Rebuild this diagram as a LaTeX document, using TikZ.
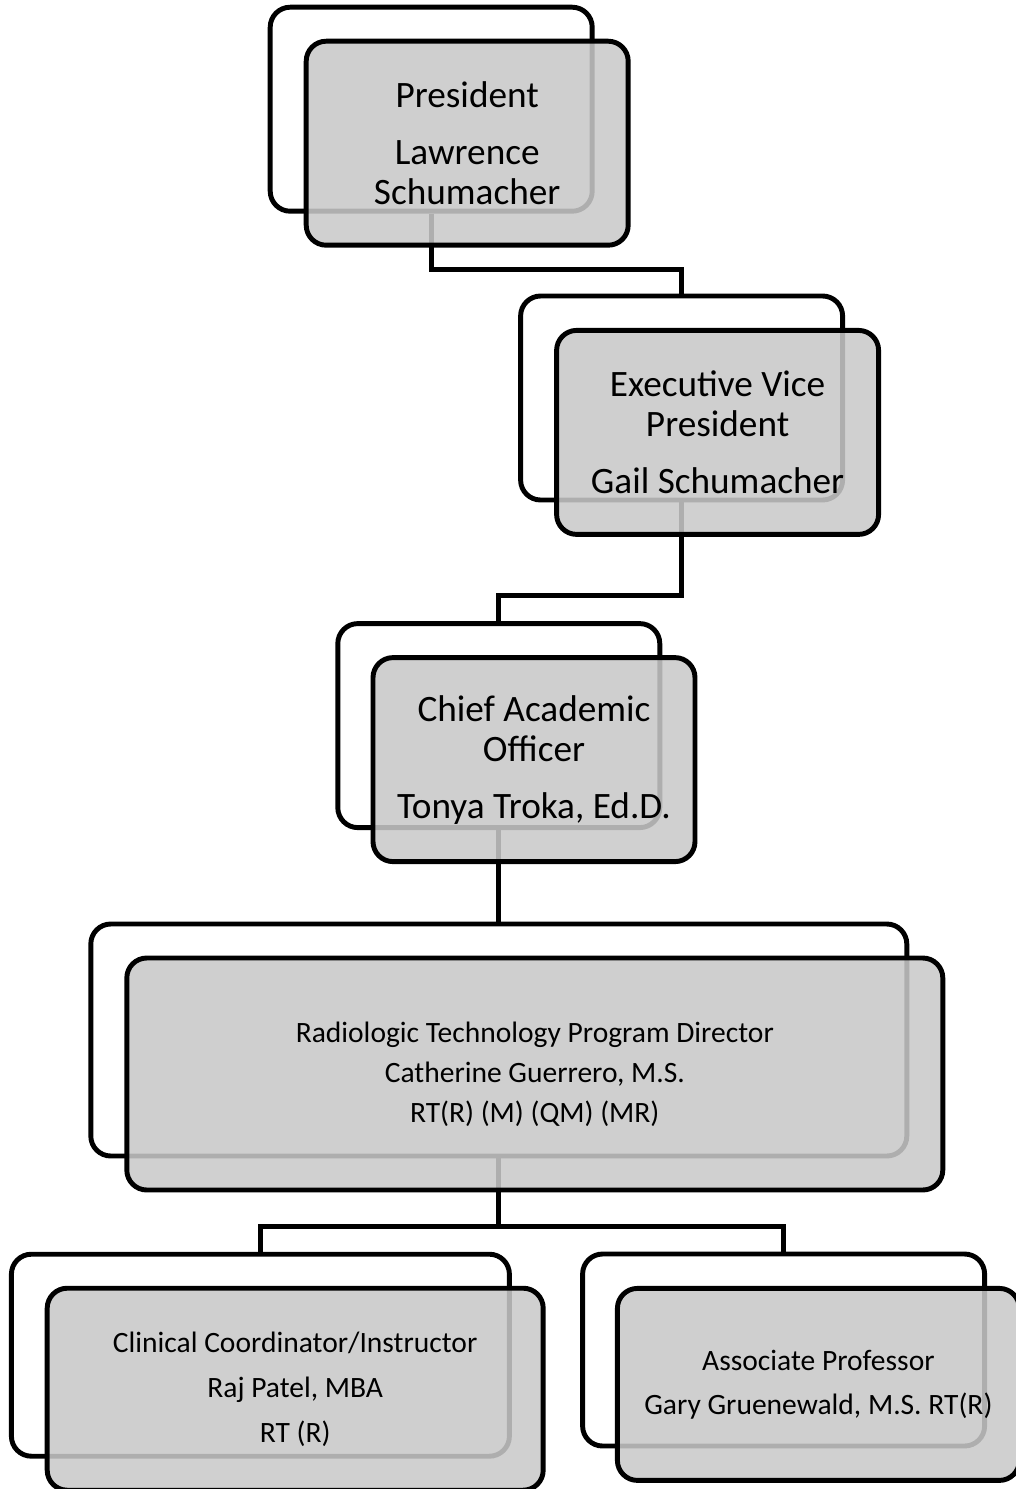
\documentclass[tikz,border=0pt]{standalone}
\usepackage{fontspec}
\setmainfont{Carlito}

\tikzset{back/.style={draw, line width=3.5pt, rounded corners=0.5cm, fill=white},
          box/.style={back, fill=black!21, fill opacity=0.87, text opacity=1, align=center},
          big/.style={minimum width=8.05cm, minimum height=5.1cm, font=\fontsize{26.5}{28.5}\selectfont},
          sml/.style={font=\fontsize{21}{28.5}\selectfont},
         link/.style={line width=3.5pt}}

\begin{document}
\begin{tikzpicture}
        \useasboundingbox (0, 0) rectangle (25.4, -37.225);

        % back cards
        \node[back, big] at (10.78,  -2.73) (presback)  {};
        \node[back, big] at (17.04,  -9.95) (evpback)   {};
        \node[back, big] at (12.47, -18.14) (caoback)   {};
        \node[back, minimum width=20.4cm, minimum height=5.8cm]  at (12.47, -26.00) (rtback)    {};
        \node[back, minimum width=12.45cm, minimum height=5.05cm] at ( 6.51, -33.88) (clinback)  {};
        \node[back, minimum width=10.05cm, minimum height=4.8cm]  at (19.59, -33.75) (assocback) {};

        \draw[link] (presback.south) -- ++(0, -1.4) -| (evpback.north);
        \draw[link] (evpback.south) -- ++(0, -2.33) -| (caoback.north);
        \draw[link] (caoback.south) -- (rtback.north);
        \draw[link] (rtback.south) -- ++(0, -1.7) coordinate (split) -| (clinback.north);
        \draw[link] (split) -| (assocback.north);

        % front cards
        \node[box, big] at (11.68,  -3.58) (pres) {President\\[12pt]Lawrence\\Schumacher};
        \node[box, big] at (17.94, -10.81) (evp)  {Executive Vice\\President\\[12pt]Gail Schumacher};
        \node[box, big] at (13.35, -18.99) (cao)  {Chief Academic\\Officer\\[12pt]Tonya Troka, Ed.D.};
        \node[box, sml, minimum width=20.4cm, minimum height=5.8cm] at (13.37, -26.85) (rt)
            {Radiologic Technology Program Director\\Catherine Guerrero, M.S.\\RT(R) (M) (QM) (MR)};
        \node[box, sml, minimum width=12.4cm, minimum height=5.05cm] at ( 7.38, -34.73) (clin)
            {Clinical Coordinator/Instructor\\[3.5pt]Raj Patel, MBA\\[3.5pt]RT (R)};
        \node[box, sml, minimum width=10.05cm, minimum height=4.8cm] at (20.46, -34.61) (assoc)
            {Associate Professor\\[3pt]Gary Gruenewald, M.S. RT(R)};
\end{tikzpicture}
\end{document}
